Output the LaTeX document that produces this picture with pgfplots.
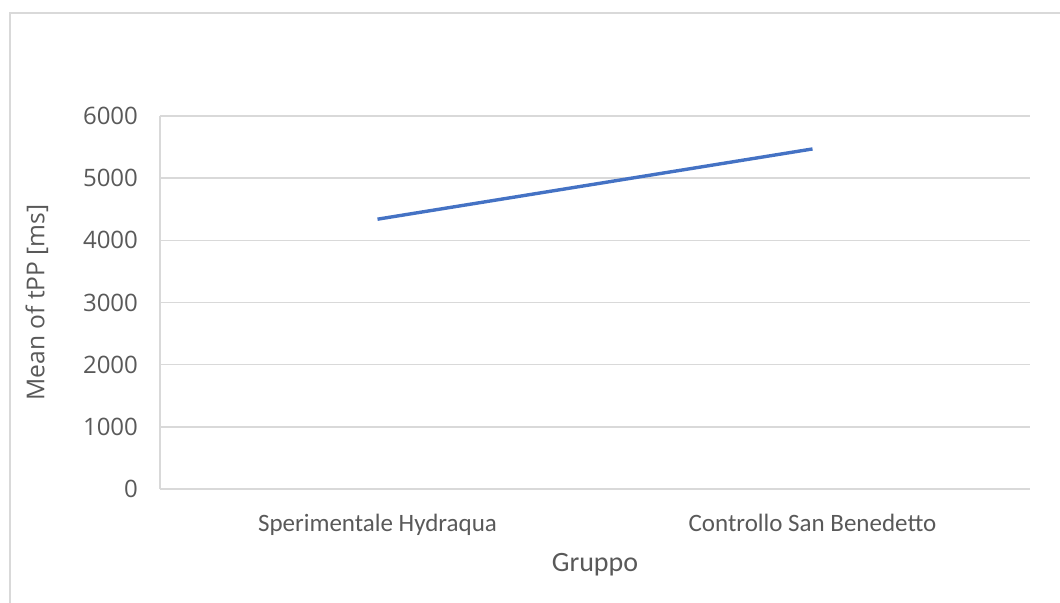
\documentclass[border=0pt]{standalone}
\usepackage{fontspec}
\setmainfont{Open Sans}
\newfontfamily\carlito{Carlito}
\usepackage{pgfplots}
\pgfplotsset{compat=1.18}
\definecolor{gridc}{RGB}{217,217,217}
\definecolor{txtc}{RGB}{89,89,89}
\definecolor{linec}{RGB}{68,114,196}
\begin{document}
\begin{tikzpicture}
\useasboundingbox (0,0) rectangle (530pt,301.5pt);
\draw[gridc, line width=1pt] (5pt,0) -- (5pt,295pt) -- (530pt,295pt);
\begin{axis}[
  at={(80pt,57pt)}, anchor=south west,
  scale only axis, width=435pt, height=186.5pt,
  xmin=0, xmax=2, ymin=0, ymax=6000,
  xtick={0.5,1.5},
  xticklabels={Sperimentale Hydraqua, Controllo San Benedetto},
  x tick label style={font=\carlito\fontsize{12.5}{14}\selectfont, text=txtc, yshift=-9pt},
  ytick={0,1000,...,6000},
  y tick label style={font=\fontsize{12}{14}\selectfont, text=txtc, xshift=-7.5pt},
  /pgf/number format/assume math mode=true,
  /pgf/number format/1000 sep={},
  ymajorgrids, major grid style={gridc, line width=0.8pt},
  axis line style={gridc, line width=0.8pt},
  axis y line*=left, axis x line*=bottom,
  y axis line style={gridc},
  major tick length=0pt,
  xlabel={Gruppo}, ylabel={Mean of tPP [ms]},
  xlabel style={font=\carlito\fontsize{14}{16}\selectfont, text=txtc, yshift=-2pt},
  ylabel style={font=\fontsize{12.3}{15}\selectfont, text=txtc, yshift=10.5pt},
  clip=false,
]
\addplot[linec, line width=1.7pt, mark=none] coordinates {(0.5,4340) (1.5,5470)};
\end{axis}
\end{tikzpicture}
\end{document}
